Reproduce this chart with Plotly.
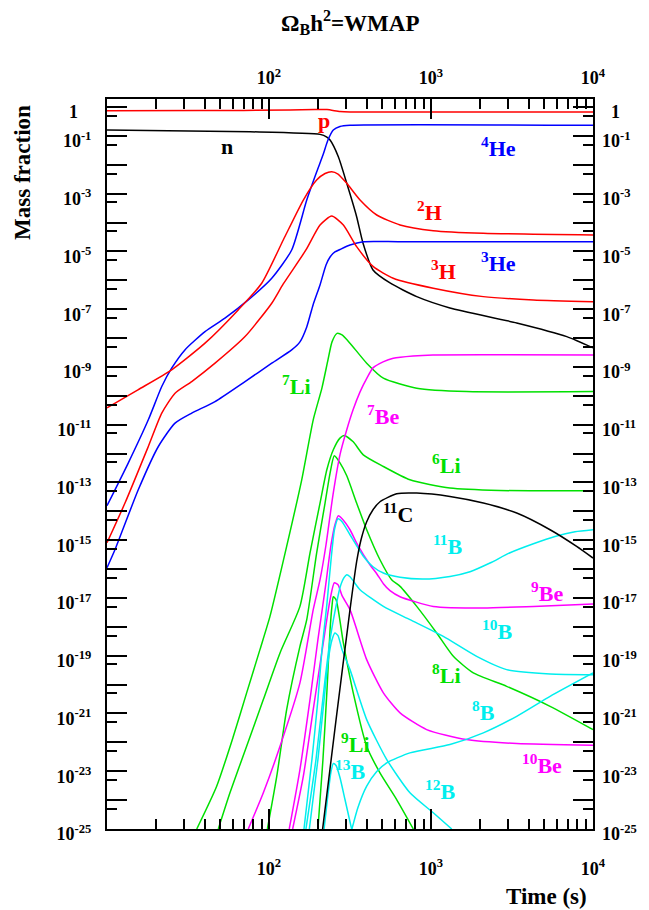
import plotly.graph_objects as go

# ---- data: log10(time / s) and log10(mass fraction) ----
p_lt = [1.0, 1.574, 2.130, 2.284, 2.358, 2.438, 2.5, 4.0]
p_ly = [-0.131, -0.121, -0.104, -0.087, -0.087, -0.156, -0.173, -0.173]

n_lt = [1.0, 1.883, 2.315, 2.357, 2.377, 2.428, 2.480, 2.541, 2.580, 2.642, 2.747, 2.912, 3.117, 3.529, 3.838, 4.0]
n_ly = [-0.796, -0.855, -0.945, -1.038, -1.142, -1.720, -2.640, -3.796, -4.706, -5.640, -6.090, -6.564, -6.955, -7.474, -7.948, -8.339]

he4_lt = [1.0, 1.131, 1.255, 1.338, 1.399, 1.481, 1.605, 1.728, 1.872, 2.017, 2.140, 2.233, 2.294, 2.333, 2.364, 2.397, 2.438, 2.5, 4.0]
he4_ly = [-13.806, -12.329, -10.830, -9.678, -9.042, -8.408, -7.775, -7.311, -6.678, -5.927, -4.948, -3.218, -2.249, -1.661, -1.142, -0.796, -0.675, -0.633, -0.633]

he3_lt = [1.0, 1.049, 1.193, 1.317, 1.420, 1.523, 1.667, 1.852, 2.017, 2.140, 2.191, 2.233, 2.272, 2.315, 2.352, 2.377, 2.407, 2.438, 2.5, 2.582, 2.809, 4.0]
he3_ly = [-15.952, -15.329, -13.253, -11.754, -10.945, -10.599, -10.197, -9.505, -8.869, -8.408, -8.131, -7.612, -6.851, -6.159, -5.467, -5.190, -5.017, -4.931, -4.775, -4.661, -4.661, -4.661]

h2_lt = [1.0, 1.191, 1.399, 1.605, 1.810, 1.955, 2.088, 2.212, 2.294, 2.346, 2.387, 2.426, 2.480, 2.562, 2.665, 2.809, 3.014, 3.323, 4.0]
h2_ly = [-10.415, -9.792, -9.100, -8.176, -7.024, -6.100, -4.602, -3.218, -2.526, -2.301, -2.239, -2.318, -2.640, -3.218, -3.737, -4.083, -4.280, -4.370, -4.429]

h3_lt = [1.0, 1.111, 1.255, 1.338, 1.420, 1.523, 1.667, 1.852, 2.017, 2.088, 2.228, 2.315, 2.387, 2.459, 2.541, 2.644, 2.767, 3.014, 3.323, 3.632, 4.0]
h3_ly = [-15.087, -13.713, -11.754, -10.599, -9.907, -9.505, -8.869, -7.948, -6.792, -6.125, -4.948, -4.083, -3.772, -4.083, -4.834, -5.526, -5.927, -6.273, -6.564, -6.678, -6.737]

li7_lt = [1.554, 1.677, 1.780, 1.862, 1.944, 2.006, 2.109, 2.202, 2.273, 2.327, 2.364, 2.389, 2.420, 2.451, 2.5, 2.603, 2.706, 2.912, 3.220, 4.0]
li7_ly = [-25, -23.519, -21.789, -20.287, -18.789, -17.637, -15.214, -12.907, -10.830, -9.723, -8.754, -8.131, -7.837, -7.889, -8.176, -8.869, -9.388, -9.734, -9.851, -9.851]

li6_lt = [1.687, 1.759, 1.862, 1.965, 2.068, 2.191, 2.253, 2.315, 2.357, 2.397, 2.438, 2.465, 2.520, 2.582, 2.706, 2.870, 3.117, 3.426, 4.0]
li6_ly = [-25, -23.747, -22.135, -20.519, -18.903, -17.291, -15.443, -13.713, -12.561, -11.869, -11.464, -11.374, -11.592, -12.042, -12.446, -12.907, -13.194, -13.277, -13.287]

li8_lt = [1.990, 2.048, 2.109, 2.191, 2.233, 2.294, 2.346, 2.377, 2.403, 2.438, 2.480, 2.541, 2.603, 2.685, 2.757, 2.809, 2.912, 3.035, 3.138, 3.261, 3.467, 3.735, 4.0]
li8_ly = [-25, -23.173, -20.865, -18.675, -17.751, -15.443, -13.713, -12.675, -12.076, -12.318, -12.768, -13.713, -14.637, -15.675, -16.367, -16.599, -17.291, -18.211, -19.021, -19.595, -20.059, -20.751, -21.557]

li9_lt = [2.302, 2.333, 2.358, 2.377, 2.389, 2.397, 2.414, 2.459, 2.520, 2.603, 2.685, 2.788, 2.891]
li9_ly = [-25, -22.595, -20.173, -18.097, -17.266, -16.955, -17.059, -18.557, -20.287, -22.135, -23.055, -23.979, -25]

be7_lt = [1.872, 1.965, 2.068, 2.191, 2.273, 2.315, 2.352, 2.395, 2.438, 2.480, 2.519, 2.562, 2.605, 2.642, 2.704, 2.767, 2.889, 3.012, 4.0]
be7_ly = [-25, -23.747, -22.135, -19.941, -17.405, -16.367, -15.156, -13.426, -12.042, -11.176, -10.484, -9.862, -9.377, -9.031, -8.824, -8.696, -8.616, -8.581, -8.581]

be9_lt = [2.125, 2.191, 2.253, 2.302, 2.346, 2.383, 2.407, 2.428, 2.451, 2.5, 2.541, 2.623, 2.665, 2.706, 2.747, 2.809, 3.014, 3.323, 3.632, 4.0]
be9_ly = [-25, -22.941, -20.519, -18.443, -16.713, -15.156, -14.464, -14.152, -14.256, -14.637, -15.097, -15.848, -16.159, -16.505, -16.747, -16.955, -17.291, -17.346, -17.291, -17.208]

be10_lt = [2.146, 2.212, 2.273, 2.335, 2.377, 2.403, 2.426, 2.451, 2.5, 2.603, 2.706, 2.809, 2.973, 3.220, 3.529, 4.0]
be10_ly = [-25, -23.173, -20.865, -18.557, -17.059, -16.471, -16.540, -16.920, -17.405, -19.135, -20.287, -20.979, -21.557, -21.903, -22.042, -22.100]

b11_lt = [2.216, 2.265, 2.302, 2.327, 2.357, 2.383, 2.404, 2.426, 2.451, 2.5, 2.580, 2.642, 2.706, 2.809, 2.952, 3.117, 3.241, 3.364, 3.488, 3.632, 3.765, 3.889, 4.0]
b11_ly = [-25, -22.595, -20.519, -18.789, -17.232, -15.675, -14.637, -14.256, -14.360, -14.810, -15.536, -15.917, -16.135, -16.280, -16.343, -16.253, -16.090, -15.789, -15.433, -15.121, -14.869, -14.706, -14.637]

b10_lt = [2.228, 2.290, 2.346, 2.377, 2.407, 2.438, 2.463, 2.480, 2.5, 2.562, 2.706, 2.870, 3.076, 3.282, 3.467, 3.735, 4.0]
b10_ly = [-25, -22.595, -19.827, -18.443, -17.474, -16.644, -16.298, -16.194, -16.263, -16.713, -17.291, -17.751, -18.329, -19.021, -19.481, -19.630, -19.654]

b12_lt = [2.249, 2.302, 2.340, 2.366, 2.389, 2.407, 2.426, 2.451, 2.5, 2.603, 2.727, 2.870, 3.014, 3.128]
b12_ly = [-25, -22.595, -20.519, -19.135, -18.443, -18.211, -18.304, -18.789, -19.481, -21.211, -22.595, -23.747, -24.439, -25]

b13_lt = [2.340, 2.364, 2.383, 2.397, 2.414, 2.438, 2.469, 2.510]
b13_ly = [-25, -23.806, -23.010, -22.734, -22.803, -23.218, -23.979, -25]

b8_lt = [2.512, 2.549, 2.603, 2.665, 2.727, 2.870, 3.117, 3.323, 3.529, 3.735, 4.0]
b8_ly = [-25, -24.256, -23.519, -23.010, -22.709, -22.363, -22.076, -21.671, -21.097, -20.405, -19.595]

c11_lt = [2.331, 2.414, 2.5, 2.541, 2.568, 2.603, 2.642, 2.685, 2.788, 2.912, 3.117, 3.323, 3.529, 3.735, 3.899, 4.0]
c11_ly = [-25, -21.211, -17.405, -15.744, -14.983, -14.360, -13.945, -13.668, -13.391, -13.367, -13.484, -13.713, -14.059, -14.637, -15.214, -15.616]

# tick labels
y_exponents = list(range(0, -26, -1))
x_decades = [10, 100, 1000, 10000]
x_ticktext = ["", "10<sup>2</sup>", "10<sup>3</sup>", "10<sup>4</sup>"]

# label text and anchor (log10 t, log10 Y)
label_text = ["p", "n", "<sup>4</sup>He", "<sup>2</sup>H", "<sup>3</sup>H", "<sup>3</sup>He",
              "<sup>7</sup>Li", "<sup>7</sup>Be", "<sup>6</sup>Li", "<sup>11</sup>C", "<sup>11</sup>B",
              "<sup>9</sup>Be", "<sup>10</sup>B", "<sup>8</sup>Li", "<sup>8</sup>B", "<sup>10</sup>Be",
              "<sup>9</sup>Li", "<sup>13</sup>B", "<sup>12</sup>B"]
label_lt = [2.340, 1.739, 3.414, 2.988, 3.080, 3.414, 2.171, 2.704, 3.097, 2.796, 3.105,
            3.714, 3.406, 3.097, 3.327, 3.683, 2.531, 2.500, 3.056]
label_ly = [-0.45, -1.349, -1.384, -3.599, -5.640, -5.363, -9.619, -10.657, -12.353, -14.048, -15.156,
            -16.782, -18.097, -19.619, -20.900, -22.734, -22.007, -22.941, -23.633]

RED, BLACK, BLUE = "#ff0000", "#000000", "#0000ff"
GREEN, MAGENTA, CYAN = "#00e000", "#ff00ff", "#00eeee"
label_color = [RED, BLACK, BLUE, RED, RED, BLUE, GREEN, MAGENTA, GREEN, BLACK, CYAN,
               MAGENTA, CYAN, GREEN, CYAN, MAGENTA, GREEN, CYAN, CYAN]

curves = [
    (p_lt, p_ly, RED), (n_lt, n_ly, BLACK), (he4_lt, he4_ly, BLUE), (he3_lt, he3_ly, BLUE),
    (h2_lt, h2_ly, RED), (h3_lt, h3_ly, RED),
    (li7_lt, li7_ly, GREEN), (li6_lt, li6_ly, GREEN), (li8_lt, li8_ly, GREEN), (li9_lt, li9_ly, GREEN),
    (be7_lt, be7_ly, MAGENTA), (be9_lt, be9_ly, MAGENTA), (be10_lt, be10_ly, MAGENTA),
    (b11_lt, b11_ly, CYAN), (b10_lt, b10_ly, CYAN), (b12_lt, b12_ly, CYAN), (b13_lt, b13_ly, CYAN),
    (b8_lt, b8_ly, CYAN), (c11_lt, c11_ly, BLACK),
]

FONT = "Liberation Serif, Times New Roman, serif"
NB = "\u00a0"

fig = go.Figure()
for lt, ly, col in curves:
    fig.add_trace(go.Scatter(
        x=[10 ** v for v in lt], y=[10 ** v for v in ly], mode="lines",
        line=dict(color=col, width=1.5, shape="spline", smoothing=0.6),
        showlegend=False, hoverinfo="skip"))

# anchor for the top / right label axes
fig.add_trace(go.Scatter(x=[None], y=[None], xaxis="x2", yaxis="y2", showlegend=False, hoverinfo="skip"))

y_tickvals = [10.0 ** e for e in y_exponents]
y_ticktext_left = ["<b>1%s</b>" % (NB * 3) if e == 0 else ("<b>10<sup>%d</sup></b>" % e if e % 2 else "")
                   for e in y_exponents]
y_ticktext_right = ["<b>%s1</b>" % (NB * 2) if e == 0 else ("<b>10<sup>%d</sup></b>" % e if e % 2 else "")
                    for e in y_exponents]
y_minor = [5 * 10.0 ** e for e in range(-25, 0)]
x_minor = [m * d for d in (10, 100, 1000) for m in range(2, 10)]

yrange = [-25, 0.28]
xrange_ = [1, 4]
TICKFONT = dict(size=18, family=FONT, color="black")

fig.update_layout(
    width=649, height=910,
    margin=dict(l=107, r=56, t=99, b=81),
    paper_bgcolor="white", plot_bgcolor="white",
    font=dict(family=FONT, color="black"),
    xaxis=dict(type="log", range=xrange_, showgrid=False, zeroline=False,
               showline=True, linecolor="black", linewidth=2, mirror="allticks",
               ticks="inside", ticklen=20, tickwidth=1.5, tickcolor="black",
               tickvals=x_decades, ticktext=["<b>%s</b>" % t if t else "" for t in x_ticktext],
               tickfont=TICKFONT, ticklabelstandoff=22,
               minor=dict(tickvals=x_minor, ticks="inside", ticklen=10, tickwidth=1.5, tickcolor="black")),
    yaxis=dict(type="log", range=yrange, showgrid=False, zeroline=False,
               showline=True, linecolor="black", linewidth=2, mirror="allticks",
               ticks="inside", ticklen=20, tickwidth=1.5, tickcolor="black",
               tickvals=y_tickvals, ticktext=y_ticktext_left,
               tickfont=TICKFONT, ticklabelstandoff=10, ticklabelshift=5,
               minor=dict(tickvals=y_minor, ticks="inside", ticklen=10, tickwidth=1.5, tickcolor="black")),
    xaxis2=dict(type="log", range=xrange_, overlaying="x", side="top", anchor="y",
                showgrid=False, zeroline=False, showline=False, ticks="",
                tickvals=x_decades, ticktext=["<b>%s</b>" % t if t else "" for t in x_ticktext],
                tickfont=TICKFONT, ticklabelstandoff=10),
    yaxis2=dict(type="log", range=yrange, overlaying="y", side="right", anchor="x",
                showgrid=False, zeroline=False, showline=False, ticks="",
                tickvals=y_tickvals, ticktext=y_ticktext_right,
                tickfont=TICKFONT, ticklabelstandoff=8, ticklabelshift=5),
)

for txt, lx, lyv, col in zip(label_text, label_lt, label_ly, label_color):
    fig.add_annotation(x=lx, y=lyv, xref="x", yref="y", text="<b>%s</b>" % txt,
                       showarrow=False, font=dict(size=22, color=col, family=FONT),
                       xanchor="center", yanchor="middle")

fig.add_annotation(x=0.5, y=1.105, xref="paper", yref="paper",
                   text="<b>Ω<sub>B</sub>h<sup>2</sup>=WMAP</b>", showarrow=False,
                   font=dict(size=23, family=FONT), xanchor="center", yanchor="middle")
fig.add_annotation(x=0.905, y=-0.093, xref="paper", yref="paper",
                   text="<b>Time (s)</b>", showarrow=False,
                   font=dict(size=23, family=FONT), xanchor="center", yanchor="middle")
fig.add_annotation(x=-0.175, y=0.9, xref="paper", yref="paper",
                   text="<b>Mass fraction</b>", showarrow=False, textangle=-90,
                   font=dict(size=23, family=FONT), xanchor="center", yanchor="middle")

fig.write_html("out.html")
